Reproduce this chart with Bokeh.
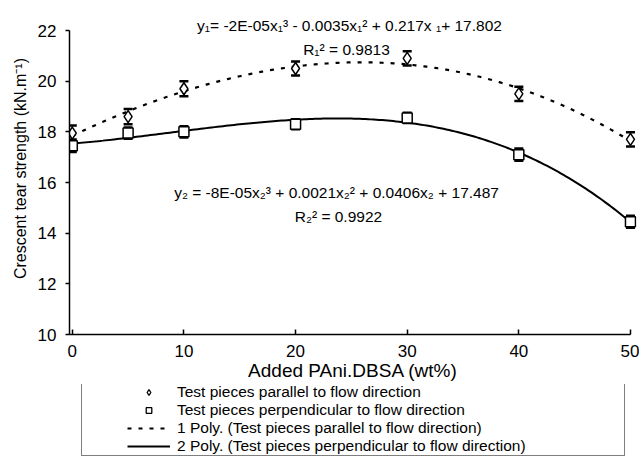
import numpy as np
from bokeh.plotting import figure
from bokeh.layouts import column
from bokeh.models import (Range1d, Legend, LegendItem, Label, Whisker,
                          ColumnDataSource, FixedTicker, TeeHead)
from bokeh.embed import file_html
from bokeh.resources import INLINE

# ---- data ----
x_pct = [0, 5, 10, 20, 30, 40, 50]
parallel = [17.95, 18.6, 19.7, 20.5, 20.9, 19.5, 17.7]
parallel_err = [0.3, 0.3, 0.3, 0.28, 0.28, 0.28, 0.28]
perpendicular = [17.45, 17.95, 18.0, 18.3, 18.55, 17.1, 14.45]
perpendicular_err = [0.25, 0.22, 0.22, 0.2, 0.2, 0.24, 0.24]
x_ticks = [0, 10, 20, 30, 40, 50]
y_ticks = [10, 12, 14, 16, 18, 20, 22]

eq1 = "y\u2081= -2E-05x\u2081\u00b3 - 0.0035x\u2081\u00b2 + 0.217x \u2081+ 17.802"
r1 = "R\u2081\u00b2 = 0.9813"
eq2 = "y\u2082 = -8E-05x\u2082\u00b3 + 0.0021x\u2082\u00b2 + 0.0406x\u2082 + 17.487"
r2 = "R\u2082\u00b2 = 0.9922"
labels = ["Test pieces parallel to flow direction",
          "Test pieces perpendicular to flow direction",
          "1 Poly. (Test pieces parallel to flow direction)",
          "2 Poly. (Test pieces perpendicular to flow direction)"]

FONT = "Liberation Sans"
DOT = "4 7"

# cubic trendlines (as in the spreadsheet) computed from the data
c_par = np.polyfit(x_pct, parallel, 3)
c_perp = np.polyfit(x_pct, perpendicular, 3)
xs = np.linspace(0, 50, 201)
fit_par = np.polyval(c_par, xs)
fit_perp = np.polyval(c_perp, xs)

BL, BR = 69, 3   # shared left/right borders (column aligns the frames)

p = figure(width=639, height=384, output_backend="svg", toolbar_location=None,
           x_range=Range1d(-0.25, 50.54), y_range=Range1d(10, 22.75),
           min_border_top=11, min_border_left=BL, min_border_right=BR,
           min_border_bottom=50)
p.outline_line_color = None
p.xgrid.visible = False
p.ygrid.visible = False

src = ColumnDataSource(dict(x=x_pct, par=parallel, perp=perpendicular,
                            par_lo=np.array(parallel) - np.array(parallel_err),
                            par_hi=np.array(parallel) + np.array(parallel_err),
                            perp_lo=np.array(perpendicular) - np.array(perpendicular_err),
                            perp_hi=np.array(perpendicular) + np.array(perpendicular_err)))

for lo, hi in (("par_lo", "par_hi"), ("perp_lo", "perp_hi")):
    w = Whisker(source=src, base="x", lower=lo, upper=hi, line_color="black", line_width=1,
                level="underlay",
                upper_head=TeeHead(size=9, line_width=2.5, line_color="black"),
                lower_head=TeeHead(size=9, line_width=2.5, line_color="black"))
    p.add_layout(w)

p.line(xs, fit_par, line_color="black", line_width=2.2, line_dash=DOT)
p.line(xs, fit_perp, line_color="black", line_width=2)

p.scatter("x", "par", source=src, marker="diamond", size=12, fill_color="white",
          line_color="black", line_width=1.5)
p.scatter("x", "perp", source=src, marker="square", size=10, fill_color="white",
          line_color="black", line_width=1.5)

# axes
for ax in (p.xaxis[0], p.yaxis[0]):
    ax.axis_line_width = 1.5
    ax.axis_line_color = "black"
    ax.major_tick_line_color = "black"
    ax.major_tick_line_width = 1.5
    ax.minor_tick_line_color = None
    ax.major_label_text_font = FONT
    ax.major_label_text_font_size = "17px"
    ax.major_label_text_color = "black"
    ax.axis_label_text_font = FONT
    ax.axis_label_text_font_style = "normal"
    ax.axis_label_text_color = "black"

p.xaxis.ticker = FixedTicker(ticks=x_ticks)
p.yaxis.ticker = FixedTicker(ticks=y_ticks)
p.xaxis.bounds = (-0.25, 50)
p.yaxis.bounds = (10, 22)
p.xaxis.major_tick_in = 5
p.xaxis.major_tick_out = 0
p.yaxis.major_tick_in = 0
p.yaxis.major_tick_out = 4
p.xaxis.major_label_standoff = 10
p.yaxis.major_label_standoff = 9
p.xaxis.axis_label = "Added PAni.DBSA (wt%)"
p.xaxis.axis_label_text_font_size = "19px"
p.xaxis.axis_label_standoff = 0
p.yaxis.axis_label = "\u00a0" * 2 + "Crescent tear strength (kN.m\u207b\u00b9)"
p.yaxis.axis_label_text_font_size = "16px"
p.yaxis.axis_label_standoff = 6

# equation labels
for txt, xx, yy in ((eq1, 24.83, 22.2), (r1, 24.56, 21.25), (eq2, 23.67, 15.6), (r2, 23.84, 14.66)):
    p.add_layout(Label(x=xx, y=yy, text=txt, text_align="center", text_baseline="middle",
                       text_font=FONT, text_font_size="15.5px", text_color="black"))

# ---- legend strip under the chart ----
lg = figure(width=639, height=72, output_backend="svg", toolbar_location=None,
            x_axis_type=None, y_axis_type=None, x_range=Range1d(0, 1), y_range=Range1d(0, 1),
            min_border_left=BL, min_border_right=BR, min_border_top=0, min_border_bottom=0)
lg.outline_line_color = None
off = dict(x=[-10, -9], y=[-10, -10])
g1 = lg.scatter(x=off["x"], y=off["y"], marker="diamond", size=11, fill_color="white",
                line_color="black", line_width=1.3)
g2 = lg.scatter(x=off["x"], y=off["y"], marker="square", size=8, fill_color="white",
                line_color="black", line_width=1.3)
g3 = lg.line(x=off["x"], y=off["y"], line_color="black", line_width=2.2, line_dash=DOT)
g4 = lg.line(x=off["x"], y=off["y"], line_color="black", line_width=2)

legend = Legend(items=[LegendItem(label=labels[0], renderers=[g1]),
                       LegendItem(label=labels[1], renderers=[g2]),
                       LegendItem(label=labels[2], renderers=[g3]),
                       LegendItem(label=labels[3], renderers=[g4])],
                location=(12, 0), orientation="vertical",
                title=" ", title_location="left", title_text_font_size="4px",
                title_standoff=40,
                label_text_font=FONT, label_text_font_size="15.5px",
                label_text_color="black", label_height=14, glyph_height=14,
                glyph_width=43, label_standoff=7, spacing=0, padding=0,
                label_width=447, border_line_color="black", border_line_width=1.2,
                margin=0, background_fill_alpha=0)
lg.add_layout(legend)

layout = column(p, lg, spacing=0)
open("out.html", "w").write(file_html(layout, INLINE))
